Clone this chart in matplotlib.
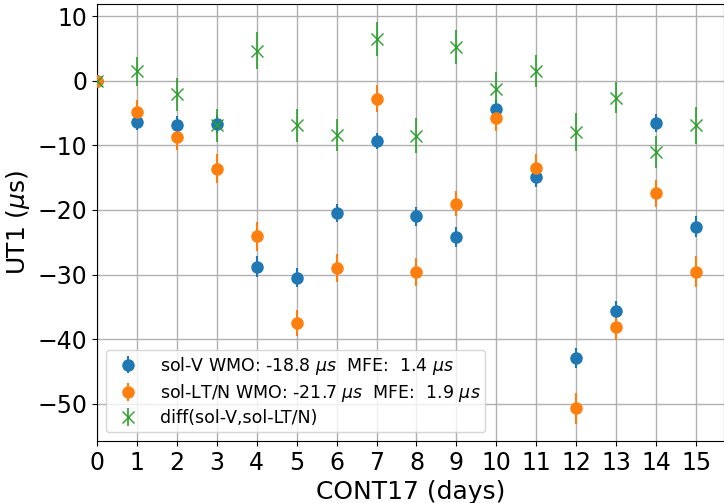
import numpy as np
import matplotlib
matplotlib.use('Agg')
import matplotlib.pyplot as plt

# ------------------------------------------------------------------------------
# Data
# ------------------------------------------------------------------------------
days = np.arange(16)

sol_v = [0.0, -6.3, -6.8, -6.7, -28.8, -30.5, -20.5, -9.3,
         -21.0, -24.2, -4.3, -14.9, -42.9, -35.6, -6.5, -22.6]
sol_v_err = [0.0, 1.3, 1.4, 1.4, 1.6, 1.5, 1.4, 1.3,
             1.5, 1.6, 1.4, 1.5, 1.6, 1.5, 1.4, 1.6]

sol_lt = [0.0, -4.9, -8.7, -13.6, -24.1, -37.5, -29.0, -2.8,
          -29.6, -19.0, -5.7, -13.5, -50.7, -38.2, -17.4, -29.6]
sol_lt_err = [0.0, 2.0, 2.0, 2.2, 2.2, 2.0, 2.2, 2.1,
              2.2, 2.0, 2.0, 2.1, 2.4, 2.0, 2.1, 2.4]

diff = [0.0, 1.45, -2.1, -6.9, 4.7, -6.9, -8.4, 6.5,
        -8.5, 5.2, -1.2, 1.55, -7.9, -2.6, -11.0, -6.9]
diff_err = [0.0, 2.3, 2.6, 2.5, 2.8, 2.5, 2.5, 2.6,
            2.7, 2.6, 2.5, 2.5, 2.9, 2.4, 2.5, 2.9]

labels = [r'sol-V WMO: -18.8 $\mu s$  MFE:  1.4 $\mu s$',
          r'sol-LT/N WMO: -21.7 $\mu s$  MFE:  1.9 $\mu s$',
          'diff(sol-V,sol-LT/N)']

# ------------------------------------------------------------------------------
# Plot
# ------------------------------------------------------------------------------
fig, ax = plt.subplots(figsize=(7.24, 5.03), dpi=100)
fig.subplots_adjust(left=0.134, right=1.0, top=0.992, bottom=0.123)

ax.errorbar(days, sol_v, yerr=sol_v_err, fmt='o', color='tab:blue',
            markersize=8, elinewidth=1.5, label=labels[0], zorder=3)
ax.errorbar(days, sol_lt, yerr=sol_lt_err, fmt='o', color='tab:orange',
            markersize=8, elinewidth=1.5, label=labels[1], zorder=3)
ax.errorbar(days, diff, yerr=diff_err, fmt='x', color='tab:green',
            markersize=9, markeredgewidth=1.0, elinewidth=1.2,
            label=labels[2], zorder=3)

ax.set_xlim(0, 15.7)
ax.set_ylim(-55.8, 11.9)
ax.set_xticks(days)
ax.set_yticks([10, 0, -10, -20, -30, -40, -50])
ax.tick_params(labelsize=17)
ax.grid(True, color='#b0b0b0', linewidth=1.0)
ax.set_axisbelow(True)

ax.set_xlabel('CONT17 (days)', fontsize=18)
ax.set_ylabel(r'UT1 ($\mu$s)', fontsize=18)

ax.legend(loc='lower left', fontsize=12.5, labelspacing=0.3, borderpad=0.3)

fig.savefig('out.png', dpi=100)
plt.close(fig)
